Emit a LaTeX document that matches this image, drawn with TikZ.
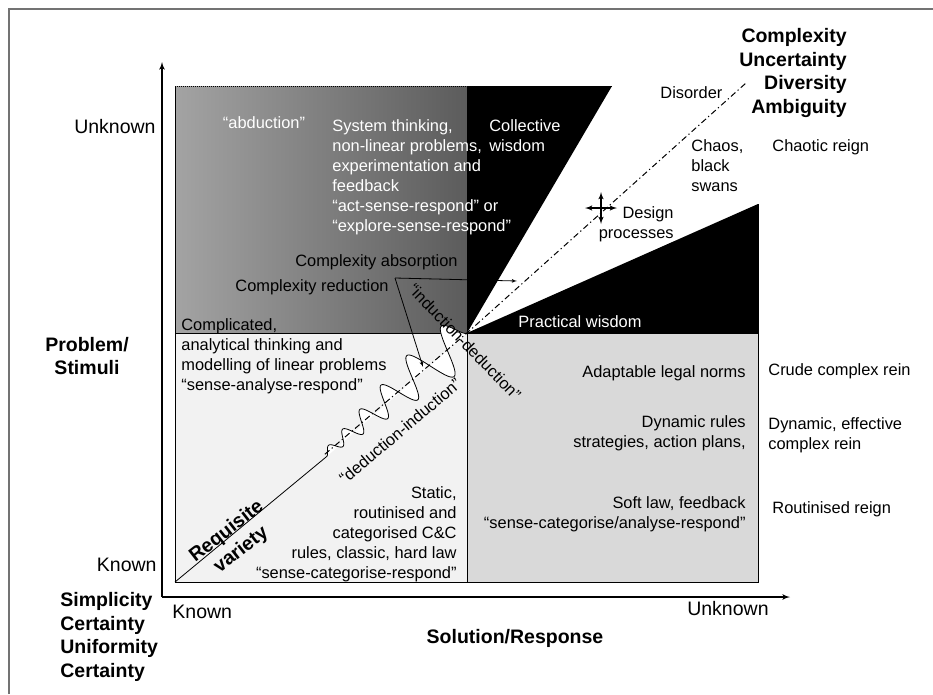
\documentclass[tikz,border=0pt]{standalone}
\usepackage{fontspec}
\setmainfont{Liberation Sans}
\usetikzlibrary{arrows,positioning,backgrounds}
\tikzstyle{txt} = [inner sep=0pt, font=\fontsize{16.4}{20}\selectfont]
\tikzstyle{wtxt} = [txt, text=white]
\tikzstyle{big} = [inner sep=0pt, font=\fontsize{19.5}{23.5}\selectfont\bfseries]
\tikzstyle{axislbl} = [inner sep=0pt, font=\fontsize{19.5}{23.5}\selectfont]
\tikzstyle{edge} = [line width=1pt]
\tikzstyle{dashdot} = [dash pattern=on 6pt off 3pt on 1.2pt off 3pt, line width=1pt]

\begin{document}
\begin{tikzpicture}[x=1pt, y=-1pt, >=latex', thick,
    declare function={amp(\t)=31*(1-exp(-\t/10))*(1-\t/208);
                      ph(\t)=1800*ln(55/(55-0.2*\t));}]
    \useasboundingbox (0,0) rectangle (933,694);
    \draw[black!55, line width=1.5pt] (9,694) -- (9,9) -- (933,9);

    \coordinate (o) at (467,333);
    \coordinate (bl) at (175,582);
    \coordinate (ws) at (324.9,454.2);
    \coordinate (dis) at (746,83);
    \coordinate (origin) at (162,597);
    \coordinate (ytip) at (162,62);
    \coordinate (xtip) at (790,597);

    % the four quadrants and the two wedges
    \fill[left color=black!36, right color=black!64] (175,86) rectangle (o);
    \fill[black!5] (175,333) rectangle (467,582);
    \fill[black!15] (o) rectangle (758,582);
    \fill[black] (467,86) -- (612,86) -- (o) -- cycle;
    \fill[black] (o) -- (758,204) -- (758,333) -- cycle;
    \draw[edge] (175,86) -- (bl) -- (758,582) -- (758,204);
    \draw[edge] (175,333) -- (758,333);
    \draw[edge] (o) -- (467,582);
    \draw[edge, densely dotted] (175,86) -- (612,86);

    \draw[->, line width=1.6pt] (origin) -- (ytip);
    \draw[->, line width=1.6pt] (origin) -- (xtip);

    % requisite variety wave
    \fill[white] plot[domain=0:187, samples=300]
        ({467-0.760*\x+0.648*(-amp(\x)*sin(ph(\x)))}, {333+0.648*\x+0.760*(-amp(\x)*sin(ph(\x)))}) -- cycle;
    \draw[dashdot] (ws) -- (o) -- (dis);
    \draw (bl) -- plot[domain=187:0, samples=300]
        ({467-0.760*\x+0.648*(-amp(\x)*sin(ph(\x)))}, {333+0.648*\x+0.760*(-amp(\x)*sin(ph(\x)))});

    % top left
    \node[wtxt] (abd) at (264,123) {“abduction”};
    \node[wtxt, anchor=north west, align=left] (sys) at (332,119)
        {System thinking,\\non-linear problems,\\experimentation and\\feedback\\“act-sense-respond” or\\“explore-sense-respond”};
    \node[wtxt, anchor=north west, align=left] (coll) at (489,119) {Collective\\wisdom};
    \node[txt, anchor=east] (absorb) at (458,262) {Complexity absorption};
    \node[txt, anchor=east] (reduc) at (389,287) {Complexity reduction};
    \coordinate (fork) at (395,278);
    \coordinate (absorbtip) at (517,281);
    \coordinate (reductip) at (423,367);
    \draw[->] (fork) -- (absorbtip);
    \draw[->] (fork) -- (reductip);

    % top right
    \node[txt, anchor=west] (disorder) at (660,93) {Disorder};
    \node[txt, anchor=north west, align=left] (chaos) at (691,139) {Chaos,\\black\\swans};
    \node[txt, anchor=north east, align=right] (design) at (674,206) {Design\\processes};
    \coordinate (cross) at (601,208);
    \draw[<->, line width=1.5pt] ([xshift=-16pt]cross) -- ([xshift=16pt]cross);
    \draw[<->, line width=1.5pt] ([yshift=16pt]cross) -- ([yshift=-16pt]cross);
    \node[wtxt] (prac) at (580,322) {Practical wisdom};
    \node[big, anchor=north east, align=right] (cuda) at (847,28)
        {Complexity\\Uncertainty\\Diversity\\Ambiguity};

    % bottom quadrants
    \node[txt, anchor=north west, align=left] (compl) at (181,318)
        {Complicated,\\analytical thinking and\\modelling of linear problems\\“sense-analyse-respond”};
    \node[txt, anchor=north east, align=right] (static) at (457,486)
        {Static,\\routinised and\\categorised C\&C\\rules, classic, hard law\\“sense-categorise-respond”};
    \node[txt, anchor=east] (adapt) at (746,373) {Adaptable legal norms};
    \node[txt, anchor=north east, align=right] (dyn) at (746,415) {Dynamic rules\\strategies, action plans,};
    \node[txt, anchor=north east, align=right] (soft) at (746,496)
        {Soft law, feedback\\“sense-categorise/analyse-respond”};
    \node[txt, rotate=-46] (indded) at (465,342) {“induction-deduction”};
    \node[txt, rotate=40] (dedind) at (400,431) {“deduction-induction”};
    \node[big, rotate=38, align=center] (req) at (234,541) {Requisite\\variety};

    % reigns
    \node[txt, anchor=west] (chaotic) at (772,147) {Chaotic reign};
    \node[txt, anchor=west] (crude) at (768,371) {Crude complex rein};
    \node[txt, anchor=north west, align=left] (dyneff) at (768,417) {Dynamic, effective\\complex rein};
    \node[txt, anchor=west] (rout) at (772,509) {Routinised reign};

    % axes
    \node[axislbl, anchor=east] (yunk) at (156,127) {Unknown};
    \node[axislbl, anchor=east] (ykn) at (157,565) {Known};
    \node[axislbl, anchor=west] (xkn) at (172,612) {Known};
    \node[axislbl, anchor=east] (xunk) at (769,609) {Unknown};
    \node[big, align=center] (prob) at (87,356) {Problem/\\Stimuli};
    \node[big] (sol) at (515,638) {Solution/Response};
    \node[big, anchor=north west, align=left] (scuc) at (60,592)
        {Simplicity\\Certainty\\Uniformity\\Certainty};
\end{tikzpicture}
\end{document}
